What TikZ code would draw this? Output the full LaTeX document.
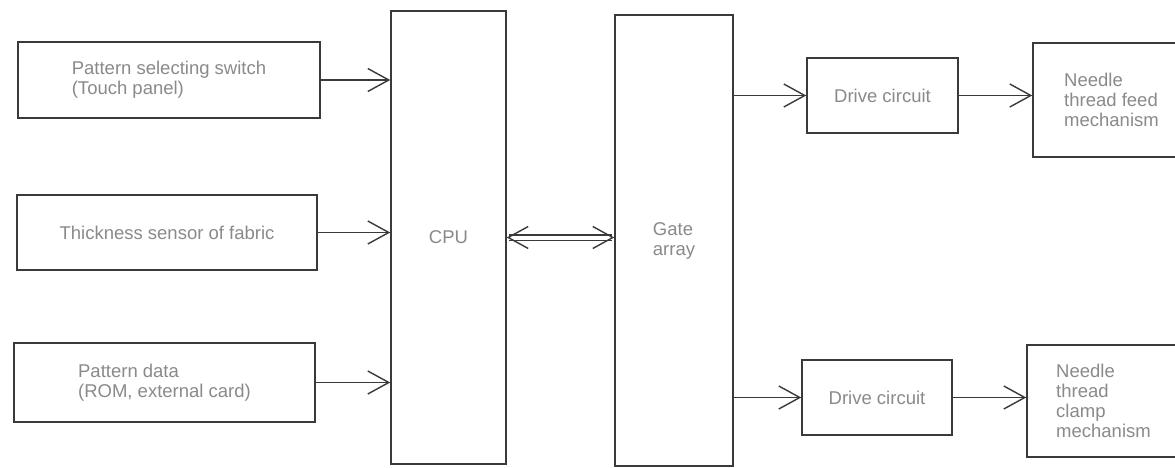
\documentclass[tikz,border=0pt]{standalone}
\usepackage{fontspec}
\setmainfont{Liberation Sans}
\usetikzlibrary{arrows.meta}
\definecolor{linec}{HTML}{3A3A3A}
\definecolor{textc}{HTML}{8A8A8A}
\begin{document}
\begin{tikzpicture}[x=1pt,y=-1pt,
  blk/.style={draw=linec, line width=1.5pt, rectangle, inner sep=0pt, align=left,
    text=textc, font=\fontsize{18.5}{20}\selectfont},
  conn/.style={draw=linec, line width=1.6pt, -{Straight Barb[length=21pt,width=23pt,line width=1.4pt]}},
  dconn/.style={draw=linec, line width=1.4pt, double, double distance=4pt,
    {Straight Barb[length=20pt,width=22pt,line width=1.4pt]}-{Straight Barb[length=20pt,width=22pt,line width=1.4pt]}}]
\useasboundingbox (0,0) rectangle (1175,468);
\clip (0,0) rectangle (1175,468);
\fill[white] (0,0) rectangle (1175,468);

\node[blk, minimum width=302pt, minimum height=76pt] (ps) at (169,80) {Pattern selecting switch\\(Touch panel)};
\node[blk, minimum width=300pt, minimum height=75pt] (th) at (167,232.5) {Thickness sensor of fabric};
\node[blk, minimum width=301pt, minimum height=79pt] (pd) at (164.5,382.5) {Pattern data\\(ROM, external card)};
\node[blk, minimum width=115pt, minimum height=453pt] (cpu) at (448.5,237.5) {CPU};
\node[blk, minimum width=118pt, minimum height=451pt] (gate) at (674,240.5) {Gate\\array};
\node[blk, minimum width=151pt, minimum height=75pt] (dc1) at (882.5,95.5) {Drive circuit};
\node[blk, minimum width=157pt, minimum height=114pt] (nf) at (1111.5,100) {Needle\\thread feed\\mechanism};
\node[blk, minimum width=150pt, minimum height=75pt] (dc2) at (877,397.5) {Drive circuit};
\node[blk, minimum width=153pt, minimum height=112pt] (nc) at (1103.5,401) {Needle\\thread\\clamp\\mechanism};

\draw[conn] (ps.east) -- (ps.east -| cpu.west);
\draw[conn] (th.east) -- (th.east -| cpu.west);
\draw[conn] (pd.east) -- (pd.east -| cpu.west);
\draw[dconn] (cpu.east) -- (cpu.east -| gate.west);
\draw[conn] (dc1.west -| gate.east) -- (dc1.west);
\draw[conn] (dc1.east) -- (dc1.east -| nf.west);
\draw[conn] (dc2.west -| gate.east) -- (dc2.west);
\draw[conn] (dc2.east) -- (dc2.east -| nc.west);
\end{tikzpicture}
\end{document}
